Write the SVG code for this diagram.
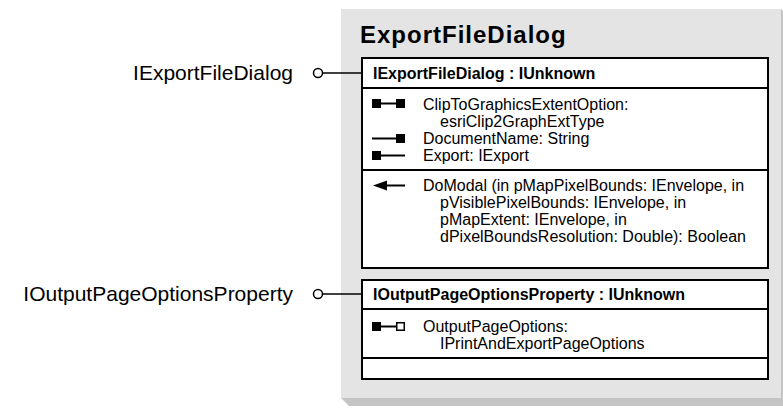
<svg xmlns="http://www.w3.org/2000/svg" width="783" height="409" viewBox="0 0 783 409">
<style>
.t{font-family:"Liberation Sans",Arial,sans-serif;fill:#000}
.lbl{font-size:21px}
.hdr{font-size:16px;font-weight:bold}
.body{font-size:16px}
.title{font-size:24px;font-weight:bold;letter-spacing:1px}
.box{fill:#fff;stroke:#000;stroke-width:2}
.sep{stroke:#000;stroke-width:2}
.ln{stroke:#000;stroke-width:1.5;fill:none}
.ic{stroke:#000;stroke-width:2;fill:none}
</style>
<rect width="783" height="409" fill="#fff"/>
<g id="ExportFileDialog">
<polygon points="341,398 349,406 789,406 789,17 781,9" fill="#c4c4c4"/>
<rect x="341" y="9" width="440" height="389" fill="#e4e4e4"/>
<text class="t title" x="360" y="43">ExportFileDialog</text>
</g>
<g id="IExportFileDialog">
<rect class="box" x="362" y="58" width="406" height="210"/>
<line class="sep" x1="362" y1="88" x2="768" y2="88"/>
<line class="sep" x1="362" y1="170" x2="768" y2="170"/>
<text class="t hdr" x="373" y="79">IExportFileDialog : IUnknown</text>
<rect x="372" y="99" width="9" height="9"/>
<line class="ic" x1="381" y1="103.5" x2="396" y2="103.5"/>
<rect x="396" y="99" width="9" height="9"/>
<text class="t body" x="423" y="110">ClipToGraphicsExtentOption:</text>
<text class="t body" x="440" y="127">esriClip2GraphExtType</text>
<line class="ic" x1="372" y1="138.5" x2="396" y2="138.5"/>
<rect x="396" y="134" width="9" height="9"/>
<text class="t body" x="423" y="144">DocumentName: String</text>
<rect x="372" y="151" width="9" height="9"/>
<line class="ic" x1="381" y1="155.5" x2="405" y2="155.5"/>
<text class="t body" x="423" y="161">Export: IExport</text>
<polygon points="373,185.5 387,180.5 387,190.5"/>
<line class="ic" x1="387" y1="185.5" x2="405" y2="185.5"/>
<text class="t body" x="423" y="191">DoModal (in pMapPixelBounds: IEnvelope, in</text>
<text class="t body" x="440" y="208">pVisiblePixelBounds: IEnvelope, in</text>
<text class="t body" x="440" y="225">pMapExtent: IEnvelope, in</text>
<text class="t body" x="440" y="242">dPixelBoundsResolution: Double): Boolean</text>
</g>
<g id="IOutputPageOptionsProperty">
<rect class="box" x="362" y="280" width="406" height="99"/>
<line class="sep" x1="362" y1="309" x2="768" y2="309"/>
<line class="sep" x1="362" y1="358" x2="768" y2="358"/>
<text class="t hdr" x="373" y="300">IOutputPageOptionsProperty : IUnknown</text>
<rect x="372" y="322" width="9" height="9"/>
<line class="ic" x1="381" y1="326.5" x2="396" y2="326.5"/>
<rect x="396.75" y="322.75" width="7.5" height="7.5" fill="#fff" stroke="#000" stroke-width="1.5"/>
<text class="t body" x="423" y="332">OutputPageOptions:</text>
<text class="t body" x="440" y="349">IPrintAndExportPageOptions</text>
</g>
<g id="lollipops">
<text class="t lbl" x="293" y="80" text-anchor="end">IExportFileDialog</text>
<text class="t lbl" x="293" y="301" text-anchor="end">IOutputPageOptionsProperty</text>
</g>
<g id="connectors">
<circle cx="318" cy="73" r="4.5" fill="#fff" stroke="#000" stroke-width="1.5"/>
<line class="ln" x1="322.5" y1="73" x2="362" y2="73"/>
<circle cx="318" cy="294" r="4.5" fill="#fff" stroke="#000" stroke-width="1.5"/>
<line class="ln" x1="322.5" y1="294" x2="362" y2="294"/>
</g>
</svg>
